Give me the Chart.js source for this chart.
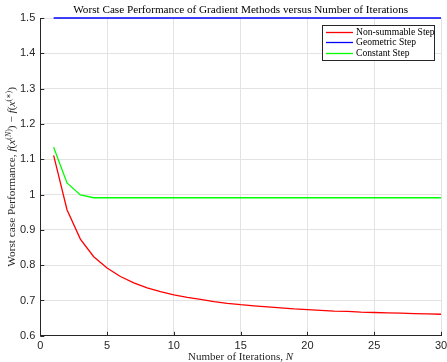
<!DOCTYPE html>
<html>
<head>
<meta charset="utf-8">
<script src="https://cdn.jsdelivr.net/npm/chart.js@4/dist/chart.umd.min.js"></script>
<style>
  html, body { margin: 0; padding: 0; background: #fff; }
  #wrap { width: 447px; height: 362px; }
</style>
</head>
<body>
<div id="wrap"><canvas id="chart" width="447" height="362"></canvas></div>
<script>
const iterations = [1, 2, 3, 4, 5, 6, 7, 8, 9, 10, 11, 12, 13, 14, 15,
  16, 17, 18, 19, 20, 21, 22, 23, 24, 25, 26, 27, 28, 29, 30];
const nonSummable = [1.111, 0.957, 0.874, 0.824, 0.792, 0.768, 0.750, 0.736, 0.725, 0.716,
  0.709, 0.703, 0.697, 0.692, 0.688, 0.685, 0.682, 0.679, 0.676, 0.674,
  0.672, 0.670, 0.669, 0.667, 0.666, 0.665, 0.664, 0.663, 0.662, 0.661];
const geometric = [1.5, 1.5, 1.5, 1.5, 1.5, 1.5, 1.5, 1.5, 1.5, 1.5,
  1.5, 1.5, 1.5, 1.5, 1.5, 1.5, 1.5, 1.5, 1.5, 1.5,
  1.5, 1.5, 1.5, 1.5, 1.5, 1.5, 1.5, 1.5, 1.5, 1.5];
const constant = [1.134, 1.033, 0.999, 0.991, 0.991, 0.991, 0.991, 0.991, 0.991, 0.991,
  0.991, 0.991, 0.991, 0.991, 0.991, 0.991, 0.991, 0.991, 0.991, 0.991,
  0.991, 0.991, 0.991, 0.991, 0.991, 0.991, 0.991, 0.991, 0.991, 0.991];
const seriesNames = ['Non-summable Step', 'Geometric Step', 'Constant Step'];
const seriesColors = ['#ff0000', '#0000ff', '#00ff00'];
const titleText = 'Worst Case Performance of Gradient Methods versus Number of Iterations';

const serif = "'Liberation Serif', 'DejaVu Serif', serif";
const sans = "'Liberation Sans', Arial, sans-serif";
const ink = '#262626';

function points(ys) {
  return iterations.map((n, i) => ({ x: n, y: ys[i] }));
}

// draw a run of [text, style] pieces; style: '' normal, 'i' italic, 's' superscript
function drawRuns(ctx, runs, x, y, size) {
  runs.forEach(([t, st]) => {
    const sz = st.includes('s') ? size * 0.7 : size;
    ctx.font = (st.includes('i') ? 'italic ' : '') + sz + 'px ' + serif;
    ctx.fillText(t, x, st.includes('s') ? y - size * 0.38 : y);
    x += ctx.measureText(t).width;
  });
}
function runsWidth(ctx, runs, size) {
  let w = 0;
  runs.forEach(([t, st]) => {
    const sz = st.includes('s') ? size * 0.7 : size;
    ctx.font = (st.includes('i') ? 'italic ' : '') + sz + 'px ' + serif;
    w += ctx.measureText(t).width;
  });
  return w;
}

// MATLAB style decorations: title, axis labels with math, inward ticks, boxed legend
const matlabLook = {
  id: 'matlabLook',
  afterDraw(chart) {
    const ctx = chart.ctx;
    const area = chart.chartArea;
    const sx = chart.scales.x, sy = chart.scales.y;
    ctx.save();

    // inward tick marks
    ctx.strokeStyle = ink;
    ctx.lineWidth = 1;
    ctx.beginPath();
    sx.ticks.forEach(t => {
      const px = Math.round(sx.getPixelForValue(t.value)) + 0.5;
      ctx.moveTo(px, area.bottom);
      ctx.lineTo(px, area.bottom - 4);
    });
    sy.ticks.forEach(t => {
      const py = Math.round(sy.getPixelForValue(t.value)) + 0.5;
      ctx.moveTo(area.left, py);
      ctx.lineTo(area.left + 4, py);
    });
    ctx.stroke();

    // title centred over the plot area
    ctx.fillStyle = '#000';
    ctx.textAlign = 'center';
    ctx.textBaseline = 'alphabetic';
    ctx.font = '11.2px ' + serif;
    ctx.fillText(titleText, (area.left + area.right) / 2, 13);

    // x axis label
    ctx.textAlign = 'left';
    const xr = [['Number of Iterations, ', ''], ['N', 'i']];
    const xw = runsWidth(ctx, xr, 11);
    ctx.fillStyle = ink;
    drawRuns(ctx, xr, (area.left + area.right) / 2 - xw / 2, 360, 11);

    // y axis label
    const yr = [['Worst case Performance, ', ''], ['f', 'i'], ['(', ''], ['x', 'i'],
      ['(', 's'], ['N', 'is'], [')', 's'], [') \u2212 ', ''], ['f', 'i'], ['(', ''], ['x', 'i'],
      ['(', 's'], ['\u2217', 's'], [')', 's'], [')', '']];
    const yw = runsWidth(ctx, yr, 11.3);
    ctx.translate(15, (area.top + area.bottom) / 2);
    ctx.rotate(-Math.PI / 2);
    drawRuns(ctx, yr, -yw / 2, 0, 11.3);
    ctx.setTransform(1, 0, 0, 1, 0, 0);

    // legend box
    const x0 = 322, y0 = 25, w = 112, h = 35;
    ctx.fillStyle = '#fff';
    ctx.fillRect(x0, y0, w, h);
    ctx.strokeStyle = ink;
    ctx.lineWidth = 1;
    ctx.strokeRect(x0 + 0.5, y0 + 0.5, w, h);
    ctx.font = '9.6px ' + serif;
    ctx.textBaseline = 'middle';
    chart.data.datasets.forEach((ds, i) => {
      const y = Math.round(y0 + 7 + i * 10.4) + 0.5;
      ctx.strokeStyle = ds.borderColor;
      ctx.lineWidth = 1.3;
      ctx.beginPath();
      ctx.moveTo(x0 + 4, y);
      ctx.lineTo(x0 + 31, y);
      ctx.stroke();
      ctx.fillStyle = '#000';
      ctx.fillText(ds.label, x0 + 34, y);
    });
    ctx.restore();
  }
};

new Chart(document.getElementById('chart'), {
  type: 'line',
  data: {
    datasets: [
      { label: seriesNames[0], data: points(nonSummable), borderColor: seriesColors[0] },
      { label: seriesNames[1], data: points(geometric), borderColor: seriesColors[1] },
      { label: seriesNames[2], data: points(constant), borderColor: seriesColors[2] }
    ].map(d => Object.assign(d, { borderWidth: 1.3, pointRadius: 0, tension: 0, fill: false, clip: false }))
  },
  options: {
    responsive: false,
    animation: false,
    layout: { padding: { top: 18, right: 0, bottom: 5, left: 15 } },
    plugins: {
      legend: { display: false },
      tooltip: { enabled: false },
      title: { display: false }
    },
    scales: {
      x: {
        type: 'linear',
        min: 0,
        max: 30,
        ticks: { stepSize: 5, color: ink, font: { family: sans, size: 11 }, padding: 4, maxRotation: 0 },
        grid: { color: '#e3e3e3', tickLength: 0 },
        border: { color: ink, width: 1 },
        afterFit(scale) {
          // let the last tick label hang to the canvas edge, as in the original
          scale.paddingRight = 6;
        }
      },
      y: {
        min: 0.6,
        max: 1.5,
        ticks: {
          stepSize: 0.1,
          color: ink,
          font: { family: sans, size: 11 },
          padding: 5,
          callback: v => String(Math.round(v * 10) / 10)
        },
        grid: { color: '#e3e3e3', tickLength: 0 },
        border: { color: ink, width: 1 }
      }
    }
  },
  plugins: [matlabLook]
});
</script>
</body>
</html>
